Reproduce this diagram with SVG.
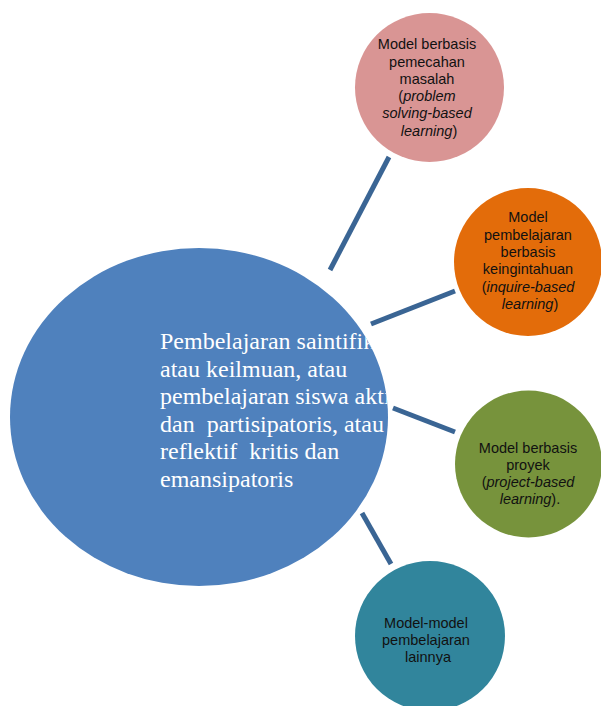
<svg xmlns="http://www.w3.org/2000/svg" width="601" height="706" viewBox="0 0 601 706">
  <style>
    .conn { stroke: #3A6594; stroke-width: 5; fill: none; }
    .small { font-family: "Liberation Sans", Arial, sans-serif; font-size: 14.5px; fill: #111; text-anchor: middle; }
    .big { font-family: "Liberation Serif", "Times New Roman", serif; font-size: 24px; fill: #ffffff; }
    .it { font-style: italic; }
    .pre { white-space: pre; }
  </style>
  <defs>
    <clipPath id="mainClip">
      <ellipse cx="199" cy="417" rx="189" ry="169"/>
    </clipPath>
  </defs>
  <rect width="601" height="706" fill="#ffffff"/>

  <g id="connectors">
    <line class="conn" x1="330" y1="270" x2="389" y2="157"/>
    <line class="conn" x1="371" y1="324" x2="455" y2="291"/>
    <line class="conn" x1="393" y1="408" x2="455" y2="432"/>
    <line class="conn" x1="362" y1="513" x2="391" y2="564"/>
  </g>

  <g id="main">
    <ellipse cx="199" cy="417" rx="189" ry="169" fill="#4F81BD"/>
    <text class="big" clip-path="url(#mainClip)"><tspan x="160" y="349">Pembelajaran saintifik</tspan><tspan x="160" y="376.5">atau keilmuan, atau</tspan><tspan x="160" y="404">pembelajaran siswa aktif</tspan><tspan x="160" y="431.5" class="pre">dan  partisipatoris, atau</tspan><tspan x="160" y="459" class="pre">reflektif  kritis dan</tspan><tspan x="160" y="486.5">emansipatoris</tspan></text>
  </g>

  <g id="node-problem">
    <circle cx="429.5" cy="87.5" r="74.5" fill="#D99594"/>
    <text class="small">
      <tspan x="429" y="49">Model berbasis</tspan>
      <tspan x="429" y="67">pemecahan</tspan>
      <tspan x="429" y="84">masalah</tspan>
      <tspan x="429" y="101">(<tspan class="it">problem</tspan></tspan>
      <tspan x="429" y="118" class="it">solving-based</tspan>
      <tspan x="429" y="136"><tspan class="it">learning</tspan>)</tspan>
    </text>
  </g>

  <g id="node-inquire">
    <circle cx="528" cy="262" r="74" fill="#E36C0A"/>
    <text class="small">
      <tspan x="530" y="222">Model</tspan>
      <tspan x="530" y="240">pembelajaran</tspan>
      <tspan x="530" y="257">berbasis</tspan>
      <tspan x="530" y="274">keingintahuan</tspan>
      <tspan x="530" y="292">(<tspan class="it">inquire-based</tspan></tspan>
      <tspan x="530" y="309"><tspan class="it">learning</tspan>)</tspan>
    </text>
  </g>

  <g id="node-project">
    <circle cx="528.5" cy="464" r="73.5" fill="#77933C"/>
    <text class="small">
      <tspan x="530" y="453">Model berbasis</tspan>
      <tspan x="530" y="470">proyek</tspan>
      <tspan x="530" y="487">(<tspan class="it">project-based</tspan></tspan>
      <tspan x="530" y="504"><tspan class="it">learning</tspan>).</tspan>
    </text>
  </g>

  <g id="node-other">
    <circle cx="430" cy="636" r="75" fill="#31859C"/>
    <text class="small">
      <tspan x="428" y="628">Model-model</tspan>
      <tspan x="428" y="645">pembelajaran</tspan>
      <tspan x="428" y="662">lainnya</tspan>
    </text>
  </g>
</svg>
